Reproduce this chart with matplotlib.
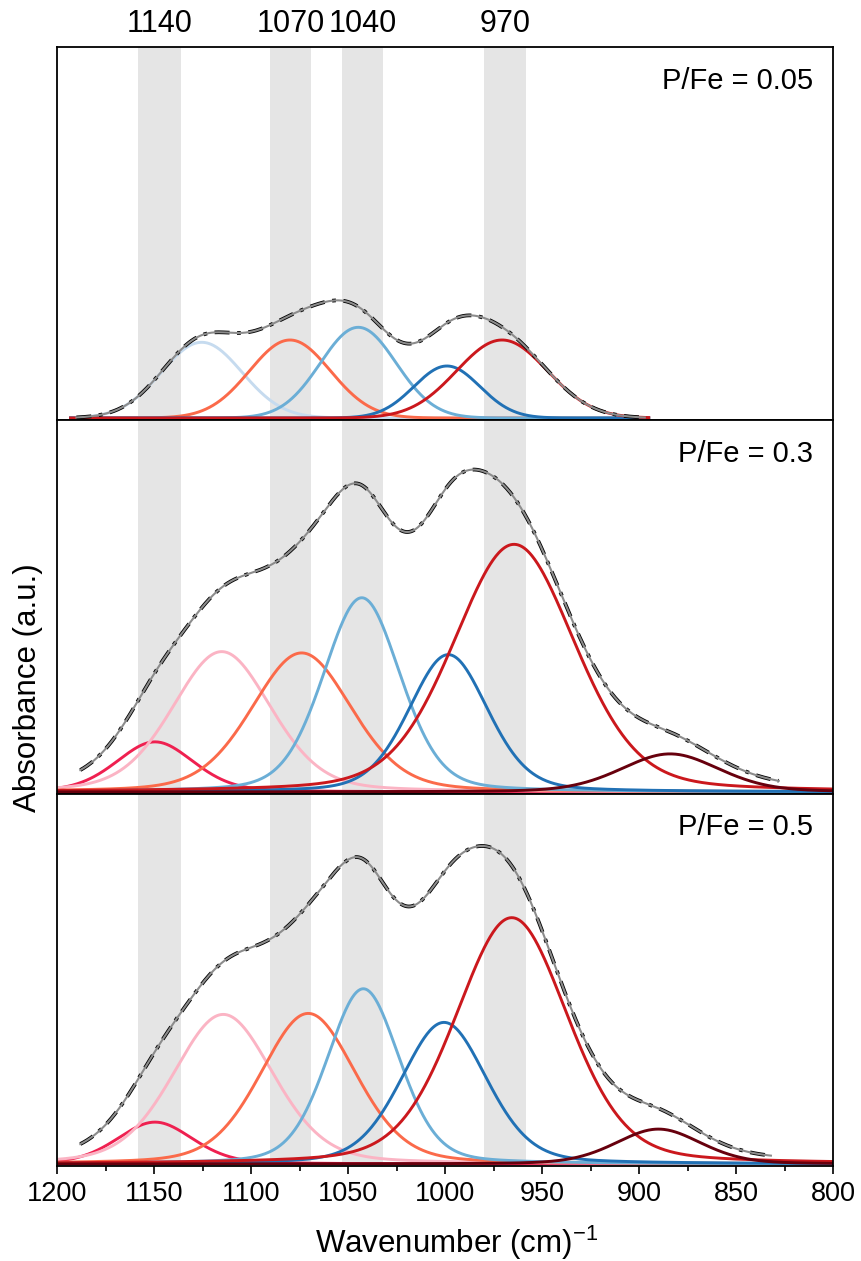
"""
Peak-fit decomposition of the FTIR P-O stretching region for three P/Fe ratios.
Components are pseudo-Voigt bands (pure Gaussian for P/Fe = 0.05); the grey
trace is the summed fit, the black dash-dot trace the measured spectrum.
"""
import numpy as np
import matplotlib.pyplot as plt

plt.rcParams['font.family'] = ['Liberation Sans', 'DejaVu Sans']
plt.rcParams['mathtext.fontset'] = 'custom'
plt.rcParams['mathtext.rm'] = 'Liberation Sans'

# assigned band positions (cm-1) and the grey windows that mark them
band_labels = ["1140", "1070", "1040", "970"]
band_lo = [1136, 1069, 1032, 958]
band_hi = [1158, 1090, 1053, 980]

panel_labels = ["P/Fe = 0.05", "P/Fe = 0.3", "P/Fe = 0.5"]
fit_hi = [1193, 1200, 1200]
fit_lo = [895, 800, 800]
meas_hi = [1190, 1188, 1188]
meas_lo = [897, 828, 832]
eta = [0.0, 0.25, 0.25]          # Lorentzian fraction of each panel's bands

# P/Fe = 0.05
cen_005 = [1125.4, 1079.9, 1044.7, 999.0, 970.6]
amp_005 = [75.7, 78.0, 90.7, 52.0, 78.0]
fwhm_005 = [48.8, 49.0, 46.0, 40.0, 55.0]
col_005 = ["#c6dbef", "#fb6a4a", "#6baed6", "#2171b5", "#cb181d"]

# P/Fe = 0.3
cen_03 = [1149.5, 1115.1, 1073.9, 1042.9, 998.3, 964.4, 884.0]
amp_03 = [50.0, 140.0, 138.7, 193.7, 137.0, 247.0, 38.0]
fwhm_03 = [47.0, 60.0, 61.0, 47.0, 48.0, 74.0, 60.0]
col_03 = ["#ef2050", "#fbb4c4", "#fb6a4a", "#6baed6", "#2171b5", "#cb181d", "#67000d"]

# P/Fe = 0.5
cen_05 = [1149.5, 1114.3, 1070.5, 1042.1, 1000.5, 965.6, 890.0]
amp_05 = [42.0, 150.0, 151.0, 175.7, 142.0, 247.0, 35.0]
fwhm_05 = [46.0, 61.0, 58.0, 44.0, 52.0, 68.0, 52.0]
col_05 = col_03

panels = [(cen_005, amp_005, fwhm_005, col_005),
          (cen_03, amp_03, fwhm_03, col_03),
          (cen_05, amp_05, fwhm_05, col_05)]


def pvoigt(x, c, a, w, f):
    z = 4 * (x - c) ** 2 / w ** 2
    return a * (f / (1 + z) + (1 - f) * np.exp(-np.log(2) * z))


fig = plt.figure(figsize=(8.61, 12.61), dpi=100)
L, R = 57 / 861, 833 / 861
edges = [47, 420, 794, 1166]     # panel boundaries, px from top
axes = []
for i in range(3):
    b = 1 - edges[i + 1] / 1261
    h = (edges[i + 1] - edges[i]) / 1261
    axes.append(fig.add_axes([L, b, R - L, h]))

for i, ax in enumerate(axes):
    cen, amp, fw, cols = panels[i]
    x = np.linspace(fit_hi[i], fit_lo[i], 800)
    xm = np.linspace(meas_hi[i], meas_lo[i], 800)
    for lo, hi in zip(band_lo, band_hi):
        ax.axvspan(lo, hi, color="#e5e5e5", lw=0, zorder=0)
    total_m = np.zeros_like(xm)
    for c, a, w, col in zip(cen, amp, fw, cols):
        ax.plot(x, pvoigt(x, c, a, w, eta[i]), color=col, lw=2.1, zorder=2)
        total_m += pvoigt(xm, c, a, w, eta[i])
    # measured spectrum (black dash-dot) under the summed fit (grey)
    ax.plot(xm, total_m, color="black", lw=2.7, ls=(0, (4, 2, 1, 2)), zorder=3)
    ax.plot(xm, total_m, color="#8c8c8c", lw=1.5, zorder=4)

    ax.set_xlim(1200, 800)
    ax.set_ylim(-2, 371)
    ax.set_yticks([])
    for s in ax.spines.values():
        s.set_linewidth(1.3)
    ax.text(0.974, 0.91, panel_labels[i], transform=ax.transAxes,
            ha="right", va="center", fontsize=21)
    if i < 2:
        ax.tick_params(axis="x", bottom=False, labelbottom=False)

axes[0].set_xticks([])
for lab, lo, hi in zip(band_labels, band_lo, band_hi):
    axes[0].text((lo + hi) / 2, 1.022, lab, transform=axes[0].get_xaxis_transform(),
                 ha="center", va="bottom", fontsize=22)

axb = axes[2]
axb.set_xticks(np.arange(1200, 799, -50))
axb.set_xticks(np.arange(1175, 800, -50), minor=True)
axb.tick_params(axis="x", which="major", direction="out", length=6, width=1.2,
                labelsize=19.5, pad=5)
axb.tick_params(axis="x", which="minor", direction="out", length=3.5, width=1.2)

fig.text(457 / 861, 1 - 1243 / 1261, r"Wavenumber (cm)$\mathregular{^{-1}}$",
         ha="center", va="center", fontsize=22.5)
fig.text(28 / 861, 1 - 688 / 1261, "Absorbance (a.u.)", rotation=90,
         ha="center", va="center", fontsize=22.5)

fig.savefig("out.png", dpi=100)
